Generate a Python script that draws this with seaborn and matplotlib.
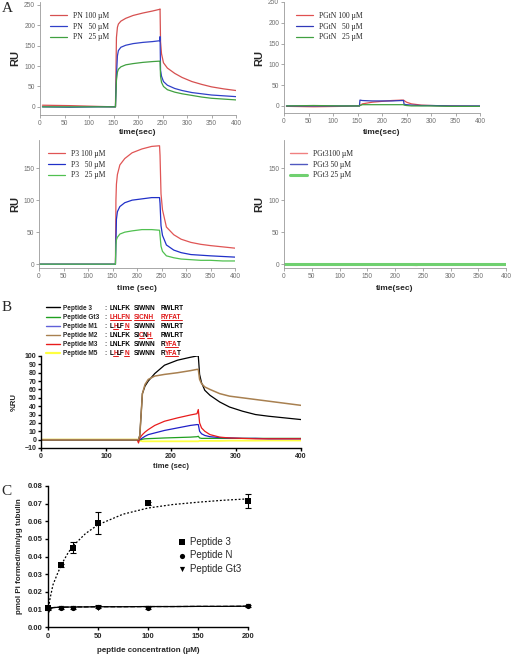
import matplotlib
matplotlib.use("Agg")
import matplotlib.pyplot as plt
import seaborn as sns
from matplotlib.lines import Line2D

W, H = 514, 655

# ---------------- Panel A data (RU vs time) ----------------
t_pn = [5, 60, 120, 154, 156, 158, 160, 165, 175, 190, 210, 230, 244, 245, 246, 248, 252, 260, 275, 290, 310, 330, 350, 375, 400]
pn_100 = [4, 3, 1, 0, 170, 195, 203, 210, 217, 224, 230, 235, 239, 240, 160, 130, 108, 95, 82, 72, 62, 55, 49, 44, 40]
pn_50 = [0, -1, 0, 0, 75, 125, 138, 146, 151, 155, 158, 160, 162, 172, 90, 75, 62, 53, 45, 40, 35, 32, 29, 27, 25]
pn_25 = [0, 0, 0, 0, 65, 85, 92, 98, 103, 106, 109, 111, 112, 112, 75, 60, 50, 42, 36, 32, 28, 24, 21, 19, 17]

t_pgtn = [5, 60, 120, 154, 155, 160, 180, 200, 220, 240, 244, 245, 250, 260, 280, 300, 340, 400]
pgtn_100 = [-1, -2, -1, 0, 1, 5, 9, 11, 13, 14, 14, 13, 9, 5, 2, 1, 0, -1]
pgtn_50 = [0, 0, 0, 0, 14, 13, 12, 12, 12, 13, 13, 4, 3, 2, 1, 1, 0, 0]
pgtn_25 = [0, 1, 0, 0, 1, 3, 3, 3, 3, 3, 3, 2, 1, 0, 0, 0, -1, -1]

t_p3 = [0, 60, 120, 156, 157, 158, 160, 165, 175, 190, 210, 230, 246, 247, 249, 252, 260, 275, 290, 310, 330, 350, 375, 400]
p3_100 = [0, 0, 0, 0, 100, 125, 140, 155, 165, 174, 180, 184, 185, 170, 110, 85, 58, 46, 39, 34, 31, 29, 27, 25]
p3_50 = [0, 0, 0, 0, 35, 70, 82, 90, 96, 100, 102, 104, 104, 95, 60, 45, 30, 22, 18, 15, 14, 13, 12, 11]
p3_25 = [0, 0, 0, 0, 30, 38, 42, 47, 50, 52, 54, 54, 53, 45, 28, 20, 13, 10, 8, 7, 6, 6, 5, 5]

t_pgt3 = [0, 100, 150, 155, 190, 200, 240, 246, 250, 300, 400]
pgt3_100 = [0, 0, 0, 0, 0, -1, -2, 0, 0, 0, 0]
pgt3_50 = [0, 0, 0, -1, -1, -1, -1, 0, 0, 0, 0]
pgt3_25 = [0, 0, 0, 0, 0, 0, 0, 0, 0, 0, 0]

# ---------------- Panel B data (%RU vs time) ----------------
t_b = [0, 100, 148, 150, 152, 154, 156, 160, 165, 175, 190, 210, 230, 240, 242, 244, 247, 252, 260, 275, 290, 310, 330, 350, 375, 400]
pep3 = [0, 0, 0, 0, 5, 30, 55, 64, 70, 79, 89, 95, 98.5, 100, 100, 78, 68, 59, 53, 45, 39, 34, 30, 28, 26, 24]
pepM2 = [0, 0, 0, 0, 5, 30, 55, 66, 72, 76, 78, 80, 82.5, 84, 84, 72, 67, 63, 60, 55, 52, 50, 48, 46, 43.5, 41]
pepM3 = [0, 0, 0, -4, 2, 4, 6, 9, 12, 17, 22, 26, 29.5, 31, 36, 20, 14, 10, 6, 3, 2, 1.5, 1, 1, 1, 1]
pepM1 = [0, 0, 0, -1, 0, 1, 2, 4, 6, 8, 11, 14, 17, 18, 18, 10, 7, 5, 3.5, 2.5, 2, 1.5, 1.5, 1, 1, 1]
pepGt3 = [0, 0, 0, 0, 0, 0, 0.5, 1, 1.2, 1.5, 2, 2.5, 3, 3.5, 4, 2, 1.5, 1.5, 1.5, 1.5, 1.5, 1.5, 1.5, 1.5, 1.5, 1.5]
pepM5 = [0, 0, 0, -1, -1.5, -1.5, -2, -2, -2, -2, -2, -2, -2, -2, -2, -1.5, -1.5, -1.5, -1.5, -1.5, -1.2, -1.2, -1.2, -1, -1, -1]

# ---------------- Panel C data (ATPase) ----------------
conc = [0, 12.5, 25, 50, 100, 200]
c_pep3 = [0.0105, 0.035, 0.045, 0.059, 0.0703, 0.0713]
c_pep3_err = [0.0007, 0.001, 0.003, 0.006, 0.0008, 0.004]
c_pepN = [0.0105, 0.011, 0.011, 0.0115, 0.011, 0.012]
c_pepN_err = [0.0005, 0.0006, 0.0006, 0.001, 0.0006, 0.0005]
c_pepGt3 = [0.0100, 0.0108, 0.011, 0.011, 0.011, 0.0118]
fit_x = [0, 2, 5, 10, 15, 20, 25, 37.5, 50, 75, 100, 125, 150, 175, 200]
fit_pep3 = [0.009, 0.016, 0.024, 0.031, 0.037, 0.042, 0.046, 0.053, 0.058, 0.064, 0.0675, 0.0695, 0.0708, 0.0719, 0.0727]
fit_flat = [0.0075, 0.0105, 0.011, 0.0112, 0.0113, 0.0113, 0.0114, 0.0114, 0.0115, 0.0115, 0.0116, 0.0116, 0.0117, 0.0117, 0.0118]

sns.set_style("ticks")
plt.rcParams['font.family'] = ['Liberation Sans', 'DejaVu Sans']

fig = plt.figure(figsize=(W / 100, H / 100), dpi=100)


def add_ax(l, t, r, b):
    ax = fig.add_axes([l / W, 1 - b / H, (r - l) / W, (b - t) / H])
    ax.box_px = (l, t, r, b)
    return ax


def px2ax(ax, x, y):
    l, t, r, b = ax.box_px
    return (x - l) / (r - l), (b - y) / (b - t)


def fig_text(x, y, s, **kw):
    return fig.text(x / W, 1 - y / H, s, **kw)


def style_a(ax, ylim, yticks, xlab, xlab_y, ru_x):
    ax.set_xlim(0, 400)
    ax.set_ylim(*ylim)
    ax.set_xticks(range(0, 401, 50))
    ax.set_yticks(yticks)
    for s in ['top', 'right']:
        ax.spines[s].set_visible(False)
    for s in ['left', 'bottom']:
        ax.spines[s].set_color('#9a9a9a')
        ax.spines[s].set_linewidth(0.6)
    ax.tick_params(labelsize=4.8, labelcolor='#707070', color='#9a9a9a', length=2, width=0.6, pad=1.5)
    ax.set_xlabel(xlab, fontsize=6, fontweight='bold', va='center')
    ax.xaxis.set_label_coords(*px2ax(ax, (ax.box_px[0] + ax.box_px[2]) / 2, xlab_y))
    ax.set_ylabel('RU', fontsize=8, fontweight='bold', va='center')
    ax.yaxis.set_label_coords(*px2ax(ax, ru_x, (ax.box_px[1] + ax.box_px[3]) / 2))


def panel_a(ax, t, series, labels, colors, lws, leg_xy):
    for y, lab, c, lw in zip(series, labels, colors, lws):
        sns.lineplot(x=t, y=y, ax=ax, color=c, lw=lw, label=lab)
    ax.legend(loc='upper left', bbox_to_anchor=px2ax(ax, *leg_xy), frameon=False,
              prop={'family': 'Liberation Serif', 'size': 5.5}, handlelength=2.2,
              labelspacing=0.35, borderpad=0, borderaxespad=0, handletextpad=0.8)


# ---- A: top left (PN)
ax1 = add_ax(40, 2, 236, 115)
panel_a(ax1, t_pn, [pn_100, pn_50, pn_25],
        ['PN 100 \u00b5M', 'PN   50 \u00b5M', 'PN   25 \u00b5M'],
        ['#d65050', '#3040c8', '#40a040'], [0.9, 0.9, 0.9], (50, 12))
style_a(ax1, (-20, 257), range(0, 251, 50), 'time(sec)', 133, 15)

# ---- A: top right (PGtN)
ax2 = add_ax(284, 2, 480, 113)
panel_a(ax2, t_pgtn, [pgtn_100, pgtn_50, pgtn_25],
        ['PGtN 100 \u00b5M', 'PGtN   50 \u00b5M', 'PGtN   25 \u00b5M'],
        ['#e05050', '#3038b8', '#40a040'], [0.9, 0.9, 0.9], (296, 12))
style_a(ax2, (-17, 250), range(0, 251, 50), 'time(sec)', 133, 259)

# ---- A: middle left (P3)
ax3 = add_ax(39, 140, 235, 268)
panel_a(ax3, t_p3, [p3_100, p3_50, p3_25],
        ['P3 100 \u00b5M', 'P3   50 \u00b5M', 'P3   25 \u00b5M'],
        ['#e05555', '#2030c8', '#50c050'], [0.9, 0.9, 0.9], (48, 150))
style_a(ax3, (-6, 194), range(0, 151, 50), 'time (sec)', 289, 15)

# ---- A: middle right (PGt3)
ax4 = add_ax(284, 140, 506, 268)
panel_a(ax4, t_pgt3, [pgt3_100, pgt3_50, pgt3_25],
        ['PGt3100 \u00b5M', 'PGt3 50 \u00b5M', 'PGt3 25 \u00b5M'],
        ['#f08080', '#5058c0', '#70d070'], [1.0, 1.0, 2.2], (290, 150))
style_a(ax4, (-6, 194), range(0, 151, 50), 'time(sec)', 289, 259)

# ---------------- Panel B ----------------
axb = add_ax(41, 356, 301, 448)
b_series = [pepM5, pepGt3, pepM1, pepM3, pep3, pepM2]
b_colors = ['#ffff40', '#20a020', '#2020c8', '#e81c1c', '#000000', '#a88050']
b_lws = [1.3, 0.9, 0.9, 0.9, 0.9, 1.1]
for y, c, lw in zip(b_series, b_colors, b_lws):
    sns.lineplot(x=t_b, y=y, ax=axb, color=c, lw=lw)
axb.set_xlim(0, 400)
axb.set_ylim(-10, 100)
axb.set_xticks(range(0, 401, 100))
axb.set_yticks(range(-10, 101, 10))
for s in ['top', 'right']:
    axb.spines[s].set_visible(False)
for s in ['left', 'bottom']:
    axb.spines[s].set_color('black')
    axb.spines[s].set_linewidth(1.0)
axb.tick_params(labelsize=5, color='black', length=2.5, width=1.0, pad=1)
for lab in axb.get_xticklabels() + axb.get_yticklabels():
    lab.set_fontweight('bold')
axb.set_xlabel('time (sec)', fontsize=5.5, fontweight='bold', va='center')
axb.xaxis.set_label_coords(*px2ax(axb, 171, 466))
axb.set_ylabel('%RU', fontsize=5.5, fontweight='bold', va='center')
axb.yaxis.set_label_coords(*px2ax(axb, 14, 402))

# legend of panel B with sequences
leg_names = ['Peptide 3', 'Peptide Gt3', 'Peptide M1', 'Peptide M2', 'Peptide M3', 'Peptide M5']
leg_colors = ['#000000', '#20a020', '#6060d8', '#a88050', '#e81c1c', '#ffff40']
leg_seqs = [
    [[('LNLFK', 0)], [('SIWNN', 0)], [('RWLRT', 0)]],
    [[('LHLFN', 1)], [('SICNH', 1)], [('RYFAT', 1)]],
    [[('L', 0), ('H', 1), ('LF', 0), ('N', 1)], [('SIWNN', 0)], [('RWLRT', 0)]],
    [[('LNLFK', 0)], [('SI', 0), ('C', 1), ('N', 0), ('H', 1)], [('RWLRT', 0)]],
    [[('LNLFK', 0)], [('SIWNN', 0)], [('R', 0), ('YFA', 1), ('T', 0)]],
    [[('L', 0), ('H', 1), ('LF', 0), ('N', 1)], [('SIWNN', 0)], [('R', 0), ('YFA', 1), ('T', 0)]],
]
group_x = [110, 133.5, 161]
fkw = dict(fontsize=4.7, fontweight='bold')
red_pieces = []
for i, (name, col, groups) in enumerate(zip(leg_names, leg_colors, leg_seqs)):
    y = 309.5 + i * 9.1
    lw = 1.6 if col == '#ffff40' else 1.0
    fig.add_artist(Line2D([46 / W, 60 / W], [1 - (y - 2) / H] * 2, color=col, lw=lw, transform=fig.transFigure))
    fig_text(63, y, name, va='baseline', **fkw)
    fig_text(104, y, ':', va='baseline', **fkw)
    for gx, pieces in zip(group_x, groups):
        prev = None
        for txt, red in pieces:
            c = '#e01818' if red else 'black'
            if prev is None:
                prev = fig_text(gx, y, txt, color=c, va='baseline', **fkw)
            else:
                prev = axb.annotate(txt, xy=(1, 0), xycoords=prev, xytext=(-0.5, 0), textcoords='offset points',
                                    color=c, annotation_clip=False, va='bottom', ha='left', **fkw)
            if red:
                red_pieces.append(prev)

# ---------------- Panel C ----------------
axc = add_ax(48, 486, 248, 627)
axc.errorbar(conc, c_pep3, yerr=c_pep3_err, fmt='none', ecolor='black', elinewidth=0.8, capsize=2, capthick=0.8, clip_on=False)
axc.errorbar(conc, c_pepN, yerr=c_pepN_err, fmt='none', ecolor='black', elinewidth=0.8, capsize=2, capthick=0.8, clip_on=False)
sns.lineplot(x=fit_x, y=fit_pep3, ax=axc, color='black', lw=0.9, linestyle=(0, (1.5, 1.5)))
sns.lineplot(x=fit_x, y=fit_flat, ax=axc, color='black', lw=0.9, linestyle='--')
sns.lineplot(x=fit_x, y=fit_flat, ax=axc, color='black', lw=0.9)
sns.scatterplot(x=conc, y=c_pep3, ax=axc, marker='s', color='black', s=14, linewidth=0, label='Peptide 3', clip_on=False, zorder=5)
sns.scatterplot(x=conc, y=c_pepN, ax=axc, marker='o', color='black', s=14, linewidth=0, label='Peptide N', clip_on=False, zorder=5)
sns.scatterplot(x=conc, y=c_pepGt3, ax=axc, marker='v', color='black', s=14, linewidth=0, label='Peptide Gt3', clip_on=False, zorder=5)
axc.set_xlim(0, 200)
axc.set_ylim(0, 0.08)
axc.set_xticks(range(0, 201, 50))
axc.set_yticks([i / 100 for i in range(0, 9)])
axc.yaxis.set_major_formatter(matplotlib.ticker.FormatStrFormatter('%.2f'))
for s in ['top', 'right']:
    axc.spines[s].set_visible(False)
for s in ['left', 'bottom']:
    axc.spines[s].set_color('black')
    axc.spines[s].set_linewidth(1.0)
axc.tick_params(labelsize=5.5, color='black', length=2.5, width=1.0, pad=1.5)
for lab in axc.get_xticklabels() + axc.get_yticklabels():
    lab.set_fontweight('bold')
axc.set_xlabel('peptide concentration (\u00b5M)', fontsize=5.8, fontweight='bold', va='center')
axc.xaxis.set_label_coords(*px2ax(axc, 148, 650))
axc.set_ylabel('pmol Pi formed/min/\u00b5g tubulin', fontsize=5.8, fontweight='bold', va='center')
axc.yaxis.set_label_coords(*px2ax(axc, 20, 556))
axc.legend(loc='upper left', bbox_to_anchor=px2ax(axc, 178, 537), frameon=False, fontsize=7,
           handlelength=0.8, handletextpad=0.4, labelspacing=0.35, borderpad=0, borderaxespad=0)

# panel letters
fig_text(2, 2, 'A', fontsize=11, family='Liberation Serif', va='top')
fig_text(2, 301, 'B', fontsize=11, family='Liberation Serif', va='top')
fig_text(1, 485, 'C', fontsize=11, family='Liberation Serif', va='top')

# underline the red substituted residues
fig.canvas.draw()
r = fig.canvas.get_renderer()
for t in red_pieces:
    bb = t.get_window_extent(r).transformed(fig.transFigure.inverted())
    yline = bb.y0 + 0.8 / H
    fig.add_artist(Line2D([bb.x0, bb.x1], [yline, yline], color='#e01818', lw=0.7, transform=fig.transFigure))

fig.savefig('out.png', dpi=100)
